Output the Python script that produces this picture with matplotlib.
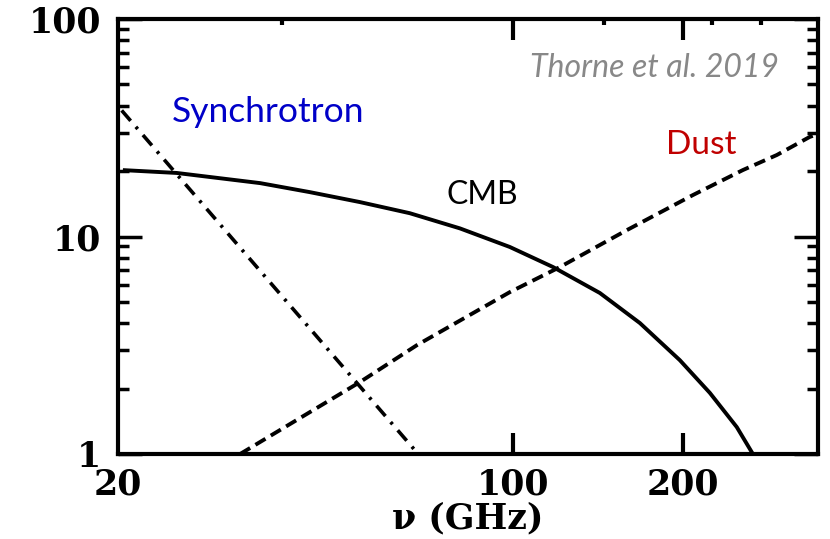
import matplotlib
matplotlib.use("Agg")
import matplotlib.pyplot as plt
from matplotlib.ticker import FixedLocator, FixedFormatter, LogLocator, NullFormatter

# ---- foreground spectra (frequency in GHz, amplitude) ----
cmb_nu = [20.4, 25.4, 35.7, 43.7, 53.6, 65.7, 80.6, 98.8, 117.8, 131.5,
          142.6, 167.9, 197.6, 223.3, 249.2, 268.0]
cmb_amp = [20.2, 19.6, 17.6, 16.0, 14.4, 12.8, 10.9, 8.95, 7.24, 6.18,
           5.50, 4.00, 2.70, 1.91, 1.33, 0.97]

sync_nu = [20.3, 68.0]
sync_amp = [38.0, 1.0]

dust_nu = [32.9, 53.6, 67.7, 98.8, 121.2, 159.2, 208.3, 255.4, 293.4, 335.5, 347.0]
dust_amp = [1.0, 2.14, 3.17, 5.55, 7.24, 10.7, 15.5, 20.2, 23.7, 28.7, 29.6]

x_major = [20, 100, 200]
x_major_labels = ["20", "100", "200"]
x_minor_top = [39, 145, 225, 275]
y_major = [1, 10, 100]
y_major_labels = ["1", "10", "100"]

tick_font = dict(family="DejaVu Serif", weight="bold", size=25)
note_font = "Lato"

fig = plt.figure(figsize=(8.3, 5.39), dpi=100)
ax = fig.add_axes([0.1422, 0.1577, 0.8433, 0.807])

ax.plot(cmb_nu, cmb_amp, color="black", lw=2.8, solid_capstyle="butt",
        solid_joinstyle="round")
ax.plot(sync_nu, sync_amp, color="black", lw=2.6, dashes=(3.8, 2.2, 0.8, 2.2))
ax.plot(dust_nu, dust_amp, color="black", lw=2.8, dashes=(3, 1.6))

ax.set_xscale("log")
ax.set_yscale("log")
ax.set_xlim(20, 347)
ax.set_ylim(1, 100)

# axes frame and ticks
for sp in ax.spines.values():
    sp.set_linewidth(3)

ax.xaxis.set_major_locator(FixedLocator([100, 200]))
ax.xaxis.set_major_formatter(NullFormatter())
ax.xaxis.set_minor_locator(FixedLocator(x_minor_top))
ax.xaxis.set_minor_formatter(NullFormatter())
ax.yaxis.set_major_locator(FixedLocator(y_major))
ax.yaxis.set_major_formatter(FixedFormatter(y_major_labels))
ax.yaxis.set_minor_locator(LogLocator(base=10, subs=range(2, 10)))
ax.yaxis.set_minor_formatter(NullFormatter())

ax.tick_params(axis="x", which="major", direction="in", length=15, width=3,
               top=True, bottom=True)
ax.tick_params(axis="x", which="minor", direction="in", length=4, width=3,
               top=True, bottom=False)
ax.tick_params(axis="y", which="major", direction="in", length=17, width=2.5,
               left=True, right=True, pad=12)
ax.tick_params(axis="y", which="minor", direction="in", length=8, width=2.5,
               left=True, right=True)
for lab in ax.get_yticklabels():
    lab.set_fontfamily(tick_font["family"])
    lab.set_fontweight(tick_font["weight"])
    lab.set_fontsize(tick_font["size"])

# x tick labels placed under the frame
for v, s in zip(x_major, x_major_labels):
    ax.text(v, -0.03, s, transform=ax.get_xaxis_transform(), ha="center",
            va="top", **tick_font)
ax.text(0.5, -0.11, "ν (GHz)", transform=ax.transAxes, ha="center", va="top",
        **tick_font)

# curve labels
ax.text(0.215, 0.786, "Synchrotron", transform=ax.transAxes, color="#0000C8",
        fontsize=25.5, family=note_font, ha="center", va="center")
ax.text(0.52, 0.595, "CMB", transform=ax.transAxes, color="black",
        fontsize=23, family=note_font, ha="center", va="center")
ax.text(0.833, 0.71, "Dust", transform=ax.transAxes, color="#C00000",
        fontsize=24, family=note_font, ha="center", va="center")
ax.text(0.766, 0.887, "Thorne et al. 2019", transform=ax.transAxes, color="#888888",
        fontsize=23, family=note_font, style="italic", ha="center", va="center")

fig.savefig("out.png", dpi=100)
